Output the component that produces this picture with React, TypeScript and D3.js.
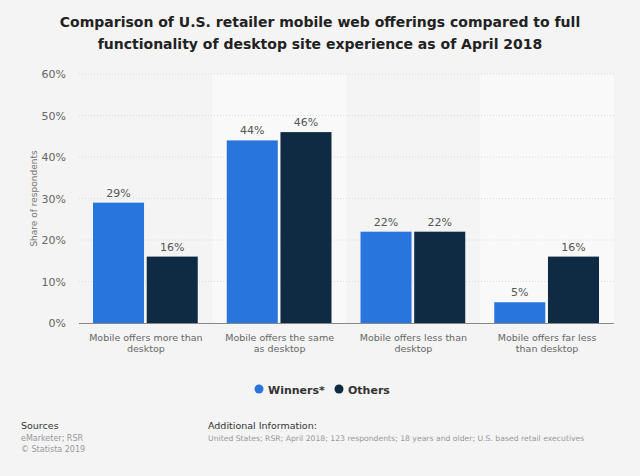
import React from "react";
import * as d3 from "d3";

const categories = [
  ["Mobile offers more than", "desktop"],
  ["Mobile offers the same", "as desktop"],
  ["Mobile offers less than", "desktop"],
  ["Mobile offers far less", "than desktop"],
];
const seriesNames = ["Winners*", "Others"];
const winners = [29, 44, 22, 5];
const others = [16, 46, 22, 16];
const colors = ["#2876dd", "#0f2a43"];
const yTicks = [0, 10, 20, 30, 40, 50, 60];

const W = 640, H = 476;
const M = { left: 79, right: 614, top: 74, bottom: 323 };
const font = "'DejaVu Sans', Verdana, sans-serif";

export default function App() {
  const x = d3.scaleBand<number>().domain(d3.range(categories.length)).range([M.left, M.right]).paddingInner(0).paddingOuter(0);
  const inner = d3.scaleBand<number>().domain([0, 1]).range([14, x.bandwidth() - 15]).paddingInner(0.05);
  const y = d3.scaleLinear().domain([0, 60]).range([M.bottom, M.top]);
  const series = [winners, others];

  return (
    <svg width={W} height={H} style={{ position: "fixed", left: 0, top: 0, fontFamily: font }}>
      <rect x={0} y={0} width={W} height={H} fill="#f4f4f4" />
      {categories.map((_, i) => (
        <rect key={"bg" + i} x={x(i)} y={M.top} width={x.bandwidth()} height={M.bottom - M.top}
          fill={i % 2 === 1 ? "#f9f9f9" : "#f4f4f4"} />
      ))}
      <text x={320} y={27} textAnchor="middle" fontSize={14} fontWeight="bold" fill="#222">
        Comparison of U.S. retailer mobile web offerings compared to full
      </text>
      <text x={320} y={49} textAnchor="middle" fontSize={14} fontWeight="bold" fill="#222">
        functionality of desktop site experience as of April 2018
      </text>
      {yTicks.map((t) => (
        <g key={"t" + t}>
          {t > 0 && (
            <line x1={M.left} x2={M.right} y1={y(t)} y2={y(t)} stroke="#dcdcdc" strokeDasharray="1,2" />
          )}
          <text x={66} y={y(t) + 4} textAnchor="end" fontSize={11} fill="#666">{t}%</text>
        </g>
      ))}
      <text transform={`translate(37,${(M.top + M.bottom) / 2}) rotate(-90)`} textAnchor="middle" fontSize={9} fill="#777">
        Share of respondents
      </text>
      {categories.map((_, i) =>
        series.map((s, j) => {
          const bx = (x(i) as number) + (inner(j) as number);
          const bw = inner.bandwidth();
          return (
            <g key={`b${i}-${j}`}>
              <rect x={bx} y={y(s[i])} width={bw} height={M.bottom - y(s[i])} fill={colors[j]} />
              <text x={bx + bw / 2} y={y(s[i]) - 6} textAnchor="middle" fontSize={11} fill="#555">{s[i]}%</text>
            </g>
          );
        })
      )}
      <line x1={M.left} x2={M.right} y1={M.bottom + 0.5} y2={M.bottom + 0.5} stroke="#888" strokeWidth={1} />
      {categories.map((c, i) => (
        <text key={"c" + i} textAnchor="middle" fontSize={9.5} fill="#666">
          {c.map((l, k) => (
            <tspan key={k} x={(x(i) as number) + x.bandwidth() / 2} y={341 + k * 11}>{l}</tspan>
          ))}
        </text>
      ))}
      <circle cx={259} cy={389} r={4.5} fill={colors[0]} />
      <text x={268} y={393.5} fontSize={11} fontWeight="bold" fill="#333">{seriesNames[0]}</text>
      <circle cx={339} cy={389} r={4.5} fill={colors[1]} />
      <text x={348} y={393.5} fontSize={11} fontWeight="bold" fill="#333">{seriesNames[1]}</text>
      <text x={21} y={429} fontSize={9.5} fill="#333">Sources</text>
      <text x={21} y={441} fontSize={8} fill="#999">eMarketer; RSR</text>
      <text x={21} y={452} fontSize={8} fill="#999">© Statista 2019</text>
      <text x={208} y={429} fontSize={9.5} fill="#333">Additional Information:</text>
      <text x={208} y={441} fontSize={7.7} fill="#999">
        United States; RSR; April 2018; 123 respondents; 18 years and older; U.S. based retail executives
      </text>
    </svg>
  );
}
